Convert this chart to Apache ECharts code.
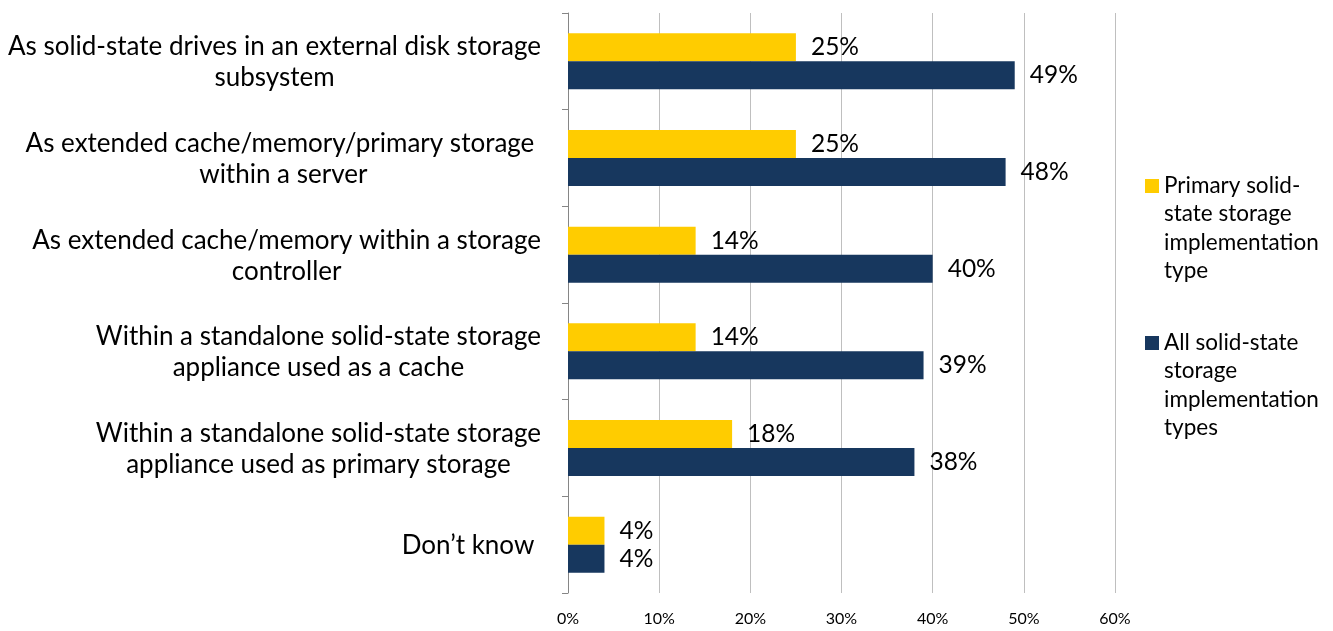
<!DOCTYPE html>
<html><head><meta charset="utf-8">
<script src="https://cdn.jsdelivr.net/npm/echarts@6/dist/echarts.min.js"></script>
<style>html,body{margin:0;padding:0;background:#fff}#c{width:1333px;height:631px}</style>
</head><body><div id="c"></div>
<script>
const categories = [
  "As solid-state drives in an external disk storage\nsubsystem",
  "As extended cache/memory/primary storage \nwithin a server",
  "As extended cache/memory within a storage\ncontroller",
  "Within a standalone solid-state storage\nappliance used as a cache",
  "Within a standalone solid-state storage\nappliance used as primary storage",
  "Don\u2019t know "
];
const seriesNames = ["Primary solid-state storage implementation type", "All solid-state storage implementation types"];
const legendLabels = ["Primary solid-\nstate storage\nimplementation\ntype", "All solid-state\nstorage\nimplementation\ntypes"];
const primaryValues = [25, 25, 14, 14, 18, 4];
const allValues = [49, 48, 40, 39, 38, 4];
const xTicks = [0, 10, 20, 30, 40, 50, 60];

const FONT = "Lato";
const chart = echarts.init(document.getElementById('c'));
const labelCfg = {show: true, position: 'right', distance: 15, formatter: p => p.value + '%', color: '#000', fontSize: 24.5, fontFamily: FONT};
// legend icon: square at top of a tall, otherwise empty box so it sits beside the first text line
const legendIcon = 'path://M0,0L14,0L14,14L0,14Z M0,98L0,98';
chart.setOption({
  animation: false,
  grid: {left: 568, right: 218, top: 13, bottom: 38, containLabel: false},
  legend: {
    orient: 'vertical', left: 1140, top: 166, itemWidth: 14, itemHeight: 98, itemGap: 43,
    icon: legendIcon,
    data: seriesNames,
    formatter: n => legendLabels[seriesNames.indexOf(n)],
    textStyle: {fontSize: 22.5, fontFamily: FONT, color: '#000', lineHeight: 28.5}
  },
  xAxis: {
    type: 'value', min: xTicks[0], max: xTicks[xTicks.length - 1], interval: 10,
    axisLine: {show: false}, axisTick: {show: false},
    axisLabel: {formatter: v => v + '%', fontSize: 16, fontFamily: FONT, color: '#000', margin: 18},
    splitLine: {lineStyle: {color: '#BFBFBF', width: 1}}
  },
  yAxis: {
    type: 'category', inverse: true, data: categories,
    axisLine: {lineStyle: {color: '#868686', width: 1}},
    axisTick: {show: true, length: 6, lineStyle: {color: '#868686'}},
    axisLabel: {
      fontSize: 26, fontFamily: FONT, color: '#000', margin: 27, lineHeight: 31, align: 'right',
      formatter: v => v.split('\n').map(l => '{c|' + l + '}').join('\n'),
      rich: {c: {align: 'center', fontSize: 26, fontFamily: FONT, color: '#000', lineHeight: 31, padding: [2, 0, 0, 0]}}
    }
  },
  series: [
    {name: seriesNames[0], type: 'bar', data: primaryValues, itemStyle: {color: '#FFCC00'}, barGap: '0%', barCategoryGap: '42%', label: labelCfg},
    {name: seriesNames[1], type: 'bar', data: allValues, itemStyle: {color: '#17375E'}, barGap: '0%', barCategoryGap: '42%', label: labelCfg}
  ]
});
</script></body></html>
